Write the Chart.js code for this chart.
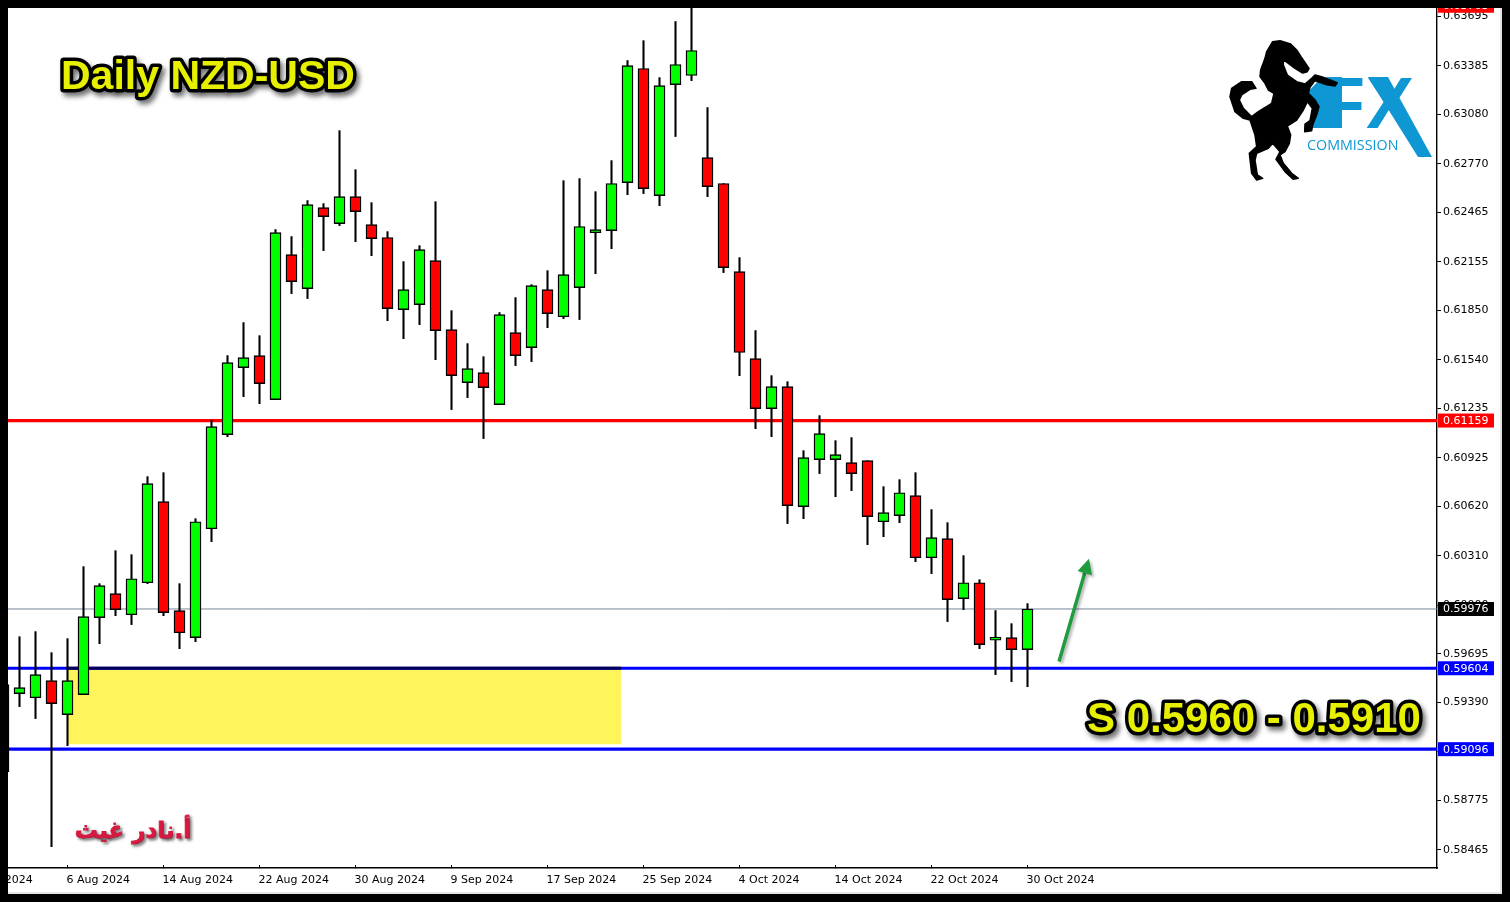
<!DOCTYPE html>
<html>
<head>
<meta charset="utf-8">
<title>Daily NZD-USD</title>
<script src="https://cdn.jsdelivr.net/npm/chart.js@4"></script>
<style>
    html, body { margin: 0; padding: 0; background: #000; overflow: hidden; }
    #frame { position: absolute; left: 8px; top: 8px; width: 1492px; height: 884px; background: #fff;
             border-right: 2px solid #e4e4e4; border-bottom: 2px solid #e4e4e4; }
    canvas { display: block; }
</style>
</head>
<body>
<div id="frame"><canvas id="chart" width="1492" height="884"></canvas></div>
<script>
// Daily candles
var opens = [
    0.59501, 0.59445, 0.59419, 0.59526, 0.59313, 0.59438, 0.59922, 0.60072, 0.59940, 0.60141,
    0.60650, 0.59966, 0.59796, 0.60480, 0.61071, 0.61491, 0.61567, 0.61290, 0.62201, 0.61987,
    0.62496, 0.62395, 0.62565, 0.62389, 0.62308, 0.61855, 0.61887, 0.62163, 0.61730, 0.61397,
    0.61460, 0.61259, 0.61711, 0.61617, 0.61981, 0.61811, 0.61994, 0.62338, 0.62351, 0.62653,
    0.63369, 0.62571, 0.63268, 0.63325, 0.62810, 0.62647, 0.62094, 0.61548, 0.61234, 0.61372,
    0.60619, 0.60914, 0.60914, 0.60895, 0.60907, 0.60524, 0.60562, 0.60688, 0.60298, 0.60418,
    0.60041, 0.60141, 0.59780, 0.59796, 0.59721
];
var highs = [
    0.59501, 0.59802, 0.59834, 0.59702, 0.59790, 0.60242, 0.60135, 0.60342, 0.60317, 0.60807,
    0.60832, 0.60135, 0.60543, 0.61159, 0.61567, 0.61774, 0.61692, 0.62358, 0.62314, 0.62540,
    0.62521, 0.62979, 0.62734, 0.62527, 0.62345, 0.62157, 0.62257, 0.62533, 0.61849, 0.61642,
    0.61560, 0.61837, 0.61931, 0.62012, 0.62100, 0.62665, 0.62678, 0.62596, 0.62791, 0.63419,
    0.63544, 0.63312, 0.63664, 0.63758, 0.63124, 0.62647, 0.62182, 0.61724, 0.61441, 0.61403,
    0.60970, 0.61190, 0.61033, 0.61052, 0.60907, 0.60744, 0.60788, 0.60832, 0.60600, 0.60518,
    0.60311, 0.60160, 0.59966, 0.59884, 0.60010
];
var lows = [
    0.58955, 0.59363, 0.59288, 0.58484, 0.59118, 0.59438, 0.59758, 0.59934, 0.59878, 0.60135,
    0.59934, 0.59727, 0.59771, 0.60399, 0.61058, 0.61309, 0.61265, 0.61290, 0.61956, 0.61925,
    0.62226, 0.62383, 0.62282, 0.62194, 0.61786, 0.61673, 0.61761, 0.61541, 0.61228, 0.61303,
    0.61046, 0.61259, 0.61504, 0.61529, 0.61742, 0.61799, 0.61793, 0.62081, 0.62238, 0.62577,
    0.62584, 0.62508, 0.62942, 0.63293, 0.62565, 0.62088, 0.61441, 0.61108, 0.61058, 0.60512,
    0.60543, 0.60826, 0.60681, 0.60719, 0.60380, 0.60430, 0.60518, 0.60273, 0.60198, 0.59897,
    0.59972, 0.59727, 0.59564, 0.59520, 0.59488
];
var closes = [
    0.58955, 0.59482, 0.59564, 0.59382, 0.59526, 0.59928, 0.60123, 0.59972, 0.60166, 0.60763,
    0.59953, 0.59827, 0.60524, 0.61121, 0.61523, 0.61554, 0.61391, 0.62339, 0.62031, 0.62515,
    0.62439, 0.62565, 0.62471, 0.62301, 0.61862, 0.61981, 0.62232, 0.61724, 0.61441, 0.61485,
    0.61366, 0.61824, 0.61567, 0.62006, 0.61830, 0.62075, 0.62377, 0.62358, 0.62647, 0.63387,
    0.62615, 0.63262, 0.63394, 0.63482, 0.62628, 0.62119, 0.61586, 0.61234, 0.61372, 0.60625,
    0.60926, 0.61077, 0.60945, 0.60826, 0.60556, 0.60581, 0.60706, 0.60298, 0.60424, 0.60035,
    0.60141, 0.59752, 0.59800, 0.59721, 0.59976
];

// Price axis and time axis
var priceTicks = [
    0.63695, 0.63385, 0.63080, 0.62770, 0.62465, 0.62155, 0.61850, 0.61540, 0.61235,
    0.60925, 0.60620, 0.60310, 0.60000, 0.59695, 0.59390, 0.59080, 0.58775, 0.58465
];
var timeTickSlots = [-2, 4, 10, 16, 22, 28, 34, 40, 46, 52, 58, 64];
var timeTickLabels = [
    '29 Jul 2024', '6 Aug 2024', '14 Aug 2024', '22 Aug 2024', '30 Aug 2024', '9 Sep 2024',
    '17 Sep 2024', '25 Sep 2024', '4 Oct 2024', '14 Oct 2024', '22 Oct 2024', '30 Oct 2024'
];

// Horizontal levels with their price badges
var resistanceLevel = 0.61159;
var currentPrice = 0.59976;
var supportTop = 0.59604;
var supportBottom = 0.59096;
var offChartPrice = 0.63763;

// Demand zone and the arrow, in slot / price units
var zoneSlots = [3.97, 38.59];
var zonePrices = [0.59614, 0.59127];
var arrowSlots = [65.97, 67.84];
var arrowPrices = [0.59646, 0.60292];

var FRAME = 8;
var SLOT_PX = 16;
var FIRST_SLOT_X = 3.5;
var slotMin = (FRAME - FIRST_SLOT_X) / SLOT_PX;
var slotMax = (1437 - FIRST_SLOT_X) / SLOT_PX;

var bodyPoints = opens.map(function(o, i) { return { x: i, y: [o, closes[i]] }; });
var wickPoints = highs.map(function(h, i) { return { x: i, y: [lows[i], h] }; });

function levelLine(price, color, width, from, to) {
    return {
        type: 'line',
        data: [{ x: from, y: price }, { x: to, y: price }],
        borderColor: color,
        borderWidth: width,
        pointRadius: 0,
        order: 4
    };
}

// Horse from the logo, outline in logo units
var horseOutline = [
    [218,125],[240,122],[272,132],[290,150],[303,170],[327,205],[322,215],[308,219],[285,205],[265,190],
    [250,180],[250,195],[262,225],[290,245],[315,252],[335,235],[345,225],[370,232],[412,248],[405,258],
    [380,254],[345,242],[330,262],[325,280],[345,300],[357,320],[350,345],[338,375],[335,392],[314,395],
    [315,372],[330,362],[337,325],[322,305],[310,330],[290,360],[262,378],[272,405],[268,430],[255,455],
    [240,465],[250,490],[275,520],[295,535],[280,538],[255,515],[228,478],[240,455],[218,430],[205,445],
    [170,460],[165,480],[172,525],[188,535],[170,540],[155,520],[148,460],[170,440],[165,405],[150,360],
    [130,355],[105,335],[90,290],[95,265],[125,245],[155,245],[168,265],[150,268],[125,285],[118,300],
    [130,325],[155,350],[175,335],[215,310],[222,280],[205,270],[195,250],[180,230],[182,210],[195,175],
    [200,155]
];

function drawBadge(ctx, y, color, text) {
    ctx.fillStyle = color;
    ctx.fillRect(1438, y - 7, 56, 14);
    ctx.fillStyle = '#fff';
    ctx.font = "11px 'DejaVu Sans'";
    ctx.textAlign = 'left';
    ctx.textBaseline = 'middle';
    ctx.fillText(text, 1443, y + 0.5);
}

function drawOutlined(ctx, text, x, y, size) {
    ctx.save();
    ctx.font = "bold " + size + "px 'Liberation Sans'";
    ctx.textAlign = 'left';
    ctx.textBaseline = 'middle';
    ctx.lineJoin = 'round';
    ctx.shadowColor = 'rgba(0,0,0,0.55)';
    ctx.shadowBlur = 5;
    ctx.shadowOffsetX = 3;
    ctx.shadowOffsetY = 4;
    ctx.strokeStyle = '#000';
    ctx.lineWidth = 7;
    ctx.strokeText(text, x, y);
    ctx.shadowColor = 'transparent';
    ctx.fillStyle = '#e6f000';
    ctx.fillText(text, x, y);
    ctx.restore();
}

function drawLogo(ctx) {
    var blue = '#0f97d4';
    ctx.save();
    ctx.fillStyle = blue;
    ctx.textBaseline = 'alphabetic';
    ctx.textAlign = 'left';
    ctx.save();
    ctx.translate(1314, 128);
    ctx.scale(1.17, 1);
    ctx.font = "bold 72px 'Liberation Sans'";
    ctx.fillText('F', 0, 0);
    ctx.restore();
    // wide F stem running in behind the horse
    ctx.beginPath();
    ctx.moveTo(1305, 95);
    ctx.lineTo(1322, 77);
    ctx.lineTo(1342, 77);
    ctx.lineTo(1342, 128);
    ctx.lineTo(1313, 128);
    ctx.lineTo(1313, 100);
    ctx.closePath();
    ctx.fill();
    ctx.font = "bold 72px 'Liberation Sans'";
    ctx.fillText('X', 1366, 128);
    // long leg of the X
    ctx.beginPath();
    ctx.moveTo(1368, 77);
    ctx.lineTo(1388, 77);
    ctx.lineTo(1432, 157);
    ctx.lineTo(1418, 157);
    ctx.closePath();
    ctx.fill();
    ctx.font = "14.3px 'Open Sans'";
    ctx.fillText('COMMISSION', 1307, 150);

    ctx.fillStyle = '#000';
    ctx.strokeStyle = '#000';
    ctx.lineWidth = 1.5;
    ctx.lineJoin = 'round';
    ctx.beginPath();
    horseOutline.forEach(function(p, i) {
        var hx = p[0] / 3 + 1200, hy = p[1] / 3;
        if (i === 0) ctx.moveTo(hx, hy); else ctx.lineTo(hx, hy);
    });
    ctx.closePath();
    ctx.fill();
    ctx.stroke();
    ctx.restore();
}

function drawArrow(ctx, x1, y1, x2, y2) {
    var angle = Math.atan2(y2 - y1, x2 - x1);
    var backX = x2 - 15 * Math.cos(angle), backY = y2 - 15 * Math.sin(angle);
    ctx.save();
    ctx.shadowColor = 'rgba(0,0,0,0.3)';
    ctx.shadowBlur = 3;
    ctx.shadowOffsetX = 2;
    ctx.shadowOffsetY = 2;
    ctx.strokeStyle = '#1f9c3e';
    ctx.fillStyle = '#1f9c3e';
    ctx.lineWidth = 3.5;
    ctx.beginPath();
    ctx.moveTo(x1, y1);
    ctx.lineTo(backX, backY);
    ctx.stroke();
    ctx.beginPath();
    ctx.moveTo(x2, y2);
    ctx.lineTo(backX + 7.5 * Math.sin(angle), backY - 7.5 * Math.cos(angle));
    ctx.lineTo(backX - 7.5 * Math.sin(angle), backY + 7.5 * Math.cos(angle));
    ctx.closePath();
    ctx.fill();
    ctx.restore();
}

var zonePlugin = {
    id: 'zone',
    beforeDatasetsDraw: function(chart) {
        var ctx = chart.ctx, x = chart.scales.x, y = chart.scales.y;
        var left = x.getPixelForValue(zoneSlots[0]), right = x.getPixelForValue(zoneSlots[1]);
        var top = y.getPixelForValue(zonePrices[0]), bottom = y.getPixelForValue(zonePrices[1]);
        ctx.save();
        ctx.fillStyle = '#fff45a';
        ctx.fillRect(left, top, right - left, bottom - top);
        ctx.restore();
    }
};

var overlayPlugin = {
    id: 'overlay',
    afterDraw: function(chart) {
        var ctx = chart.ctx, x = chart.scales.x, y = chart.scales.y;

        drawArrow(ctx, x.getPixelForValue(arrowSlots[0]), y.getPixelForValue(arrowPrices[0]),
                  x.getPixelForValue(arrowSlots[1]), y.getPixelForValue(arrowPrices[1]));

        ctx.save();
        ctx.translate(-FRAME, -FRAME);
        drawBadge(ctx, y.getPixelForValue(offChartPrice) + FRAME, '#ff0000', offChartPrice.toFixed(5));
        drawBadge(ctx, y.getPixelForValue(resistanceLevel) + FRAME, '#ff0000', resistanceLevel.toFixed(5));
        drawBadge(ctx, y.getPixelForValue(currentPrice) + FRAME, '#000000', currentPrice.toFixed(5));
        drawBadge(ctx, y.getPixelForValue(supportTop) + FRAME, '#0000ff', supportTop.toFixed(5));
        drawBadge(ctx, y.getPixelForValue(supportBottom) + FRAME, '#0000ff', supportBottom.toFixed(5));

        drawOutlined(ctx, 'Daily NZD-USD', 61, 78, 41);
        drawOutlined(ctx, 'S 0.5960 - 0.5910', 1087, 720, 42);

        // Arabic signature
        ctx.save();
        ctx.font = "bold 23px 'DejaVu Sans'";
        ctx.direction = 'rtl';
        ctx.textAlign = 'center';
        ctx.textBaseline = 'middle';
        ctx.shadowColor = 'rgba(0,0,0,0.5)';
        ctx.shadowBlur = 3;
        ctx.shadowOffsetX = 2;
        ctx.shadowOffsetY = 2;
        ctx.strokeStyle = '#d8183f';
        ctx.lineWidth = 0.8;
        ctx.strokeText('أ.نادر غيث', 133, 832);
        ctx.fillStyle = '#d8183f';
        ctx.fillText('أ.نادر غيث', 133, 832);
        ctx.restore();

        drawLogo(ctx);
        ctx.restore();
    }
};

new Chart(document.getElementById('chart'), {
    type: 'bar',
    data: {
        datasets: [
            {
                data: bodyPoints,
                backgroundColor: function(c) { return closes[c.dataIndex] >= opens[c.dataIndex] ? '#00ff00' : '#ff0000'; },
                borderColor: '#000',
                borderWidth: 1.4,
                borderSkipped: false,
                barThickness: 11,
                grouped: false,
                order: 1
            },
            {
                data: wickPoints,
                backgroundColor: '#000',
                barThickness: 1.4,
                grouped: false,
                order: 2
            },
            levelLine(resistanceLevel, '#ff0000', 3.2, slotMin, slotMax),
            levelLine(currentPrice, '#778899', 1, slotMin, slotMax),
            levelLine(supportTop, '#00005c', 3.2, zoneSlots[0], zoneSlots[1]),
            levelLine(supportTop, '#0000ff', 3.2, slotMin, slotMax),
            levelLine(supportBottom, '#0000ff', 3.2, slotMin, slotMax)
        ]
    },
    options: {
        responsive: false,
        animation: false,
        layout: { padding: 0 },
        plugins: {
            legend: { display: false },
            title: { display: false },
            tooltip: { enabled: false }
        },
        scales: {
            x: {
                type: 'linear',
                offset: false,
                min: slotMin,
                max: slotMax,
                border: { color: '#000', width: 1.4 },
                grid: { offset: false, drawOnChartArea: false, tickLength: -3, color: '#000' },
                ticks: {
                    align: 'start',
                    autoSkip: false,
                    maxRotation: 0,
                    padding: 9,
                    labelOffset: -1,
                    color: '#000',
                    font: { family: "'DejaVu Sans'", size: 11 },
                    callback: function(value) {
                        return timeTickLabels[timeTickSlots.indexOf(value)] || '';
                    }
                },
                afterBuildTicks: function(scale) {
                    scale.ticks = timeTickSlots.map(function(s) { return { value: s }; });
                },
                afterFit: function(scale) {
                    scale.height = 24;
                    scale.paddingLeft = 0;
                    scale.paddingRight = 0;
                }
            },
            y: {
                position: 'right',
                min: 0.58350,
                max: 0.63749,
                border: { color: '#000', width: 1.4 },
                grid: { drawOnChartArea: false, tickLength: 4, color: '#000' },
                ticks: {
                    autoSkip: false,
                    padding: 2,
                    color: '#000',
                    font: { family: "'DejaVu Sans'", size: 11 },
                    callback: function(value) { return value.toFixed(5); }
                },
                afterBuildTicks: function(scale) {
                    scale.ticks = priceTicks.map(function(v) { return { value: v }; });
                },
                afterFit: function(scale) {
                    scale.width = 63;
                    scale.paddingTop = 0;
                    scale.paddingBottom = 0;
                }
            }
        }
    },
    plugins: [zonePlugin, overlayPlugin]
});
</script>
</body>
</html>
